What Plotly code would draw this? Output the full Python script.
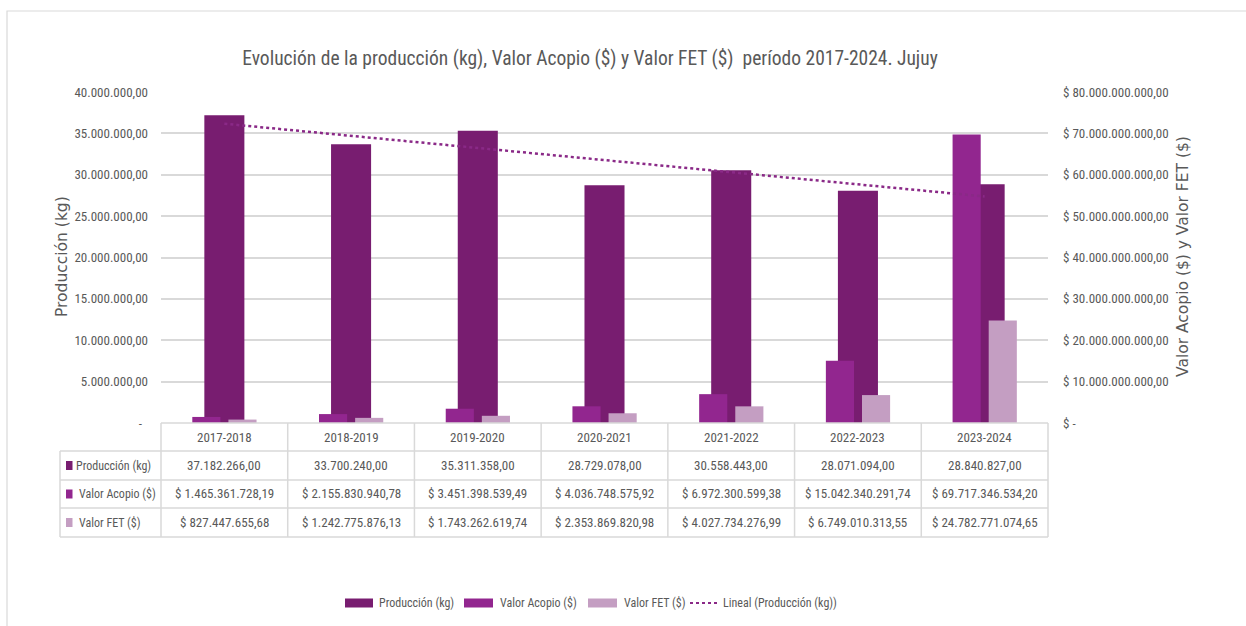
import plotly.graph_objects as go
import numpy as np

# ---------------- data ----------------
categories = ["2017-2018", "2018-2019", "2019-2020", "2020-2021", "2021-2022", "2022-2023", "2023-2024"]
produccion = [37182266.00, 33700240.00, 35311358.00, 28729078.00, 30558443.00, 28071094.00, 28840827.00]
valor_acopio = [1465361728.19, 2155830940.78, 3451398539.49, 4036748575.92, 6972300599.38, 15042340291.74, 69717346534.20]
valor_fet = [827447655.68, 1242775876.13, 1743262619.74, 2353869820.98, 4027734276.99, 6749010313.55, 24782771074.65]

left_tickvals = [0, 5e6, 10e6, 15e6, 20e6, 25e6, 30e6, 35e6, 40e6]
left_ticktext = ["-\u00a0\u00a0", "5.000.000,00", "10.000.000,00", "15.000.000,00", "20.000.000,00",
                 "25.000.000,00", "30.000.000,00", "35.000.000,00", "40.000.000,00"]
right_tickvals = [0, 10e9, 20e9, 30e9, 40e9, 50e9, 60e9, 70e9, 80e9]
right_ticktext = ["$ -", "$ 10.000.000.000,00", "$ 20.000.000.000,00", "$ 30.000.000.000,00",
                  "$ 40.000.000.000,00", "$ 50.000.000.000,00", "$ 60.000.000.000,00",
                  "$ 70.000.000.000,00", "$ 80.000.000.000,00"]

series_names = ["Producción (kg)", "Valor Acopio ($)", "Valor FET ($)"]
trend_name = "Lineal (Producción (kg))"

# ---------------- style ----------------
C_PROD = "#781D70"
C_ACOP = "#92268F"
C_FET = "#C49EC2"
C_TREND = "#8A2987"
C_GRID = "#D9D9D9"
C_TEXT = "#595959"
NARROW = "Liberation Sans Narrow, Arial Narrow, Roboto Condensed, sans-serif"
WIDE = "DejaVu Sans, Verdana, sans-serif"

W, H = 1246, 626
L, R, T, B = 161, 1048, 92, 423


def px(x):
    return (x - L) / (R - L)


def py(y):
    return (B - y) / (B - T)


def fmt(v, money=False):
    s = f"{v:,.2f}".replace(",", "X").replace(".", ",").replace("X", ".")
    return ("$ " + s) if money else s


# linear trendline (Excel "Lineal") fitted to the production series
xi = np.arange(1, len(produccion) + 1)
coef = np.polyfit(xi, produccion, 1)
trend = np.polyval(coef, xi)

fig = go.Figure()
fig.add_trace(go.Bar(x=categories, y=produccion, name=series_names[0], marker=dict(color=C_PROD, line=dict(width=0)),
                     width=0.316, offset=-0.158, yaxis="y"))
fig.add_trace(go.Bar(x=categories, y=valor_acopio, name=series_names[1], marker=dict(color=C_ACOP, line=dict(width=0)),
                     width=0.222, offset=-0.253, yaxis="y2"))
fig.add_trace(go.Bar(x=categories, y=valor_fet, name=series_names[2], marker=dict(color=C_FET, line=dict(width=0)),
                     width=0.222, offset=0.032, yaxis="y2"))
fig.add_trace(go.Scatter(x=categories, y=trend, name=trend_name, mode="lines",
                         line=dict(color=C_TREND, width=2.5, dash="dot"), yaxis="y3"))

shapes = []
annotations = []

# outer chart border (top / left visible)
shapes.append(dict(type="rect", xref="paper", yref="paper", x0=px(7), x1=px(1260), y0=py(11), y1=py(640),
                   line=dict(color="#D9D9D9", width=1.2), layer="below"))

# data table
line_style = dict(color=C_GRID, width=1.5)
row_y = [423, 451, 480, 508, 537]
shapes.append(dict(type="line", xref="paper", yref="paper", x0=px(L), x1=px(R), y0=py(row_y[0]), y1=py(row_y[0]), line=line_style))
for yy in row_y[1:]:
    shapes.append(dict(type="line", xref="paper", yref="paper", x0=px(60), x1=px(R), y0=py(yy), y1=py(yy), line=line_style))
shapes.append(dict(type="line", xref="paper", yref="paper", x0=px(60), x1=px(60), y0=py(451), y1=py(537), line=line_style))
for i in range(len(categories) + 1):
    xx = i / len(categories)
    shapes.append(dict(type="line", xref="paper", yref="paper", x0=xx, x1=xx, y0=py(423), y1=py(537), line=line_style))

FS = 13
cell_font = dict(family=NARROW, size=FS, color=C_TEXT)
label_font = dict(family=NARROW, size=12, color=C_TEXT)
row_centers = [437, 465.5, 494, 522.5]


def ann(x, y, text, font, xanchor="center", **kw):
    d = dict(x=x, y=y, xref="paper", yref="paper", text=text, showarrow=False, font=font,
             xanchor=xanchor, yanchor="middle")
    d.update(kw)
    annotations.append(d)


for i, cat in enumerate(categories):
    xc = (i + 0.5) / len(categories)
    ann(xc, py(row_centers[0]), cat, cell_font)
    ann(xc, py(row_centers[1]), fmt(produccion[i]), cell_font)
    ann(xc, py(row_centers[2]), fmt(valor_acopio[i], True), cell_font)
    ann(xc, py(row_centers[3]), fmt(valor_fet[i], True), cell_font)

for name, col, yc, tx in zip(series_names, [C_PROD, C_ACOP, C_FET], row_centers[1:], [74, 77, 77]):
    shapes.append(dict(type="rect", xref="paper", yref="paper", x0=px(66), x1=px(72.5), y0=py(yc - 4.5), y1=py(yc + 4.5),
                       fillcolor=col, line=dict(width=0)))
    ann(px(tx), py(yc), name, label_font, xanchor="left")

# axis titles
ann(px(62), py(257), "Producción (kg)", dict(family=WIDE, size=15.5, color=C_TEXT), textangle=-90)
ann(px(1183), py(257), "Valor Acopio ($) y Valor FET ($)", dict(family=WIDE, size=15.5, color=C_TEXT), textangle=-90)

# legend (manual, Excel style)
leg_y = 603
leg_items = [(345, 373, 377, series_names[0], C_PROD, "bar"),
             (464, 493, 498, series_names[1], C_ACOP, "bar"),
             (588, 617, 622, series_names[2], C_FET, "bar"),
             (690, 717, 721, trend_name, C_TREND, "line")]
for x0, x1, xt, name, col, kind in leg_items:
    if kind == "bar":
        shapes.append(dict(type="rect", xref="paper", yref="paper", x0=px(x0), x1=px(x1), y0=py(leg_y - 4.5),
                           y1=py(leg_y + 4.5), fillcolor=col, line=dict(width=0)))
    else:
        shapes.append(dict(type="line", xref="paper", yref="paper", x0=px(x0), x1=px(x1), y0=py(leg_y), y1=py(leg_y),
                           line=dict(color=col, width=2, dash="dot")))
    ann(px(xt), py(leg_y), name, label_font, xanchor="left")

fig.update_layout(
    width=W, height=H,
    margin=dict(l=L, r=W - R, t=T, b=H - B, pad=0),
    paper_bgcolor="white", plot_bgcolor="white",
    showlegend=False,
    barmode="overlay",
    title=dict(text="Evolución de la producción (kg), Valor Acopio ($) y Valor FET ($)  período 2017-2024. Jujuy",
               x=590 / W, xanchor="center", y=1 - 58 / H, yanchor="middle",
               font=dict(family=NARROW, size=19.5, color=C_TEXT)),
    xaxis=dict(type="category", range=[-0.5, 6.5], showticklabels=False, showgrid=False, zeroline=False,
               showline=False, ticks=""),
    yaxis=dict(range=[0, 40e6], tickvals=left_tickvals, ticktext=left_ticktext, showgrid=True, gridcolor=C_GRID,
               gridwidth=1.5, zeroline=False, showline=False, ticks="", ticklabelstandoff=12,
               tickfont=dict(family=NARROW, size=FS, color=C_TEXT)),
    yaxis2=dict(range=[0, 80e9], overlaying="y", side="right", tickvals=right_tickvals, ticktext=right_ticktext,
                showgrid=False, zeroline=False, showline=False, ticks="", ticklabelstandoff=14,
                tickfont=dict(family=NARROW, size=FS, color=C_TEXT)),
    yaxis3=dict(range=[0, 40e6], overlaying="y", visible=False),
    shapes=shapes,
    annotations=annotations,
)

fig.write_html("out.html", config={"displayModeBar": False},
               post_script="document.body.style.margin='0';document.body.style.overflow='hidden';")
